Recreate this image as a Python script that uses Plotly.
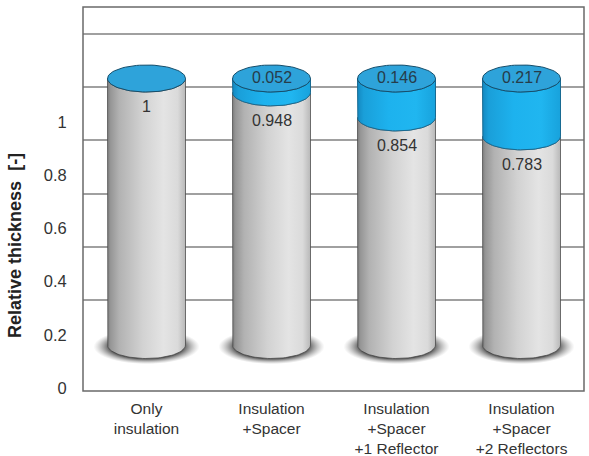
import numpy as np
import plotly.graph_objects as go

# ---------------- data ----------------
categories = ["Only<br>insulation",
              "Insulation<br>+Spacer",
              "Insulation<br>+Spacer<br>+1 Reflector",
              "Insulation<br>+Spacer<br>+2 Reflectors"]
insulation = [1, 0.948, 0.854, 0.783]          # grey segment
saving = [0, 0.052, 0.146, 0.217]              # blue segment
tick_vals = [0, 0.2, 0.4, 0.6, 0.8, 1]
tick_text = ["0", "0.2", "0.4", "0.6", "0.8", "1"]
grid_vals = [0.2, 0.4, 0.6, 0.8, 1.0, 1.2]

# ---------------- style ----------------
HALF_W = 0.312      # half cylinder width (x units)
RY = 0.0507         # ellipse half height (y units)
FONT = "Liberation Sans, Arial, sans-serif"
GREY_SCALE = [[0.0, "#7e7e7e"], [0.04, "#969696"], [0.15, "#b2b2b2"],
              [0.45, "#d2d2d2"], [0.72, "#e4e4e4"], [0.9, "#dadada"], [1.0, "#b8b8b8"]]
BLUE_SCALE = [[0.0, "#1488c0"], [0.08, "#1a9fd9"], [0.4, "#1db2ee"],
              [0.75, "#20b6f0"], [1.0, "#18a2dc"]]
SHADOW_SCALE = [[0.0, "rgba(55,55,55,1)"], [0.7, "rgba(70,70,70,0.9)"],
                [1.0, "rgba(150,150,150,0)"]]

xs_cat = list(range(len(categories)))


def body(c, y0, y1, n=48):
    t = np.linspace(np.pi, 2 * np.pi, n)
    bx = c + HALF_W * np.cos(t)
    by = y0 + RY * np.sin(t)
    tx = (c + HALF_W * np.cos(t))[::-1]
    ty = (y1 + RY * np.sin(t))[::-1]
    xs = [c - HALF_W] + list(bx) + list(tx)
    ys = [y1] + list(by) + list(ty)
    return xs, ys


def ellipse(c, yc, hw, hh, n=80):
    t = np.linspace(0, 2 * np.pi, n)
    return list(c + hw * np.cos(t)), list(yc + hh * np.sin(t))


fig = go.Figure()

# shadows
for c in xs_cat:
    ex, ey = ellipse(c, -0.006, HALF_W * 1.36, RY * 1.3)
    fig.add_trace(go.Scatter(x=ex, y=ey, mode="lines", fill="toself",
                             line=dict(width=0, color="rgba(0,0,0,0)"),
                             fillgradient=dict(type="radial", colorscale=SHADOW_SCALE),
                             hoverinfo="skip", showlegend=False))

for c, g, b in zip(xs_cat, insulation, saving):
    bx, by = body(c, 0, g)
    fig.add_trace(go.Scatter(x=bx, y=by, mode="lines", fill="toself",
                             line=dict(width=1, color="rgba(70,70,70,0.75)"),
                             fillgradient=dict(type="horizontal", colorscale=GREY_SCALE),
                             hoverinfo="skip", showlegend=False))
    if b > 0:
        bx, by = body(c, g, g + b)
        fig.add_trace(go.Scatter(x=bx, y=by, mode="lines", fill="toself",
                                 line=dict(width=1, color="#176a92"),
                                 fillgradient=dict(type="horizontal", colorscale=BLUE_SCALE),
                                 hoverinfo="skip", showlegend=False))
    ex, ey = ellipse(c, g + b, HALF_W, RY)
    fig.add_trace(go.Scatter(x=ex, y=ey, mode="lines", fill="toself",
                             fillcolor="#2ea3da", line=dict(width=1, color="#164e6b"),
                             hoverinfo="skip", showlegend=False))

# value labels
for c, g, b in zip(xs_cat, insulation, saving):
    fig.add_annotation(x=c, y=g, xref="x", yref="y", text=f"{g:g}", showarrow=False,
                       yanchor="middle", yshift=-28,
                       font=dict(family=FONT, size=16, color="#333333"))
    if b > 0:
        fig.add_annotation(x=c, y=g + b, xref="x", yref="y", text=f"{b:g}",
                           showarrow=False, yanchor="middle", yshift=1,
                           font=dict(family=FONT, size=16, color="#263c4a"))

# axis title
fig.add_annotation(xref="paper", yref="paper", x=-0.136, y=0.38,
                   text="<b>Relative thickness  [-]</b>", textangle=-90,
                   showarrow=False, xanchor="center", yanchor="middle",
                   font=dict(family=FONT, size=18, color="#222222"))

# frame
fig.add_shape(type="rect", xref="paper", yref="paper", x0=0, x1=1, y0=0, y1=1,
              line=dict(color="#6a6a6a", width=1.5), layer="above")

fig.update_layout(
    width=589, height=456,
    margin=dict(l=83, r=5, t=7, b=65, autoexpand=False),
    paper_bgcolor="white", plot_bgcolor="white",
    showlegend=False,
    xaxis=dict(range=[-0.508, 3.5], tickvals=xs_cat, ticktext=categories,
               showgrid=False, zeroline=False, showline=False, automargin=False,
               ticks="outside", ticklen=3, tickcolor="rgba(0,0,0,0)",
               tickfont=dict(family=FONT, size=15.5, color="#333333")),
    yaxis=dict(range=[-0.1726, 1.2683], showgrid=False, zeroline=False,
               showticklabels=False, showline=False, automargin=False),
    yaxis2=dict(range=[-0.1421, 1.3008], overlaying="y", tickvals=grid_vals,
                showgrid=True, gridcolor="#a0a0a0", gridwidth=1.5, automargin=False,
                zeroline=False, showticklabels=False, showline=False),
    yaxis3=dict(range=[-0.01128, 1.4323], overlaying="y", side="left",
                tickvals=tick_vals, ticktext=tick_text, showgrid=False,
                zeroline=False, showline=False, automargin=False,
                ticks="outside", ticklen=12, tickcolor="rgba(0,0,0,0)",
                tickfont=dict(family=FONT, size=16.5, color="#333333")),
)

# dummy traces to activate overlay axes
fig.add_trace(go.Scatter(x=[None], y=[None], yaxis="y2", showlegend=False, hoverinfo="skip"))
fig.add_trace(go.Scatter(x=[None], y=[None], yaxis="y3", showlegend=False, hoverinfo="skip"))

fig.write_html("out.html")
